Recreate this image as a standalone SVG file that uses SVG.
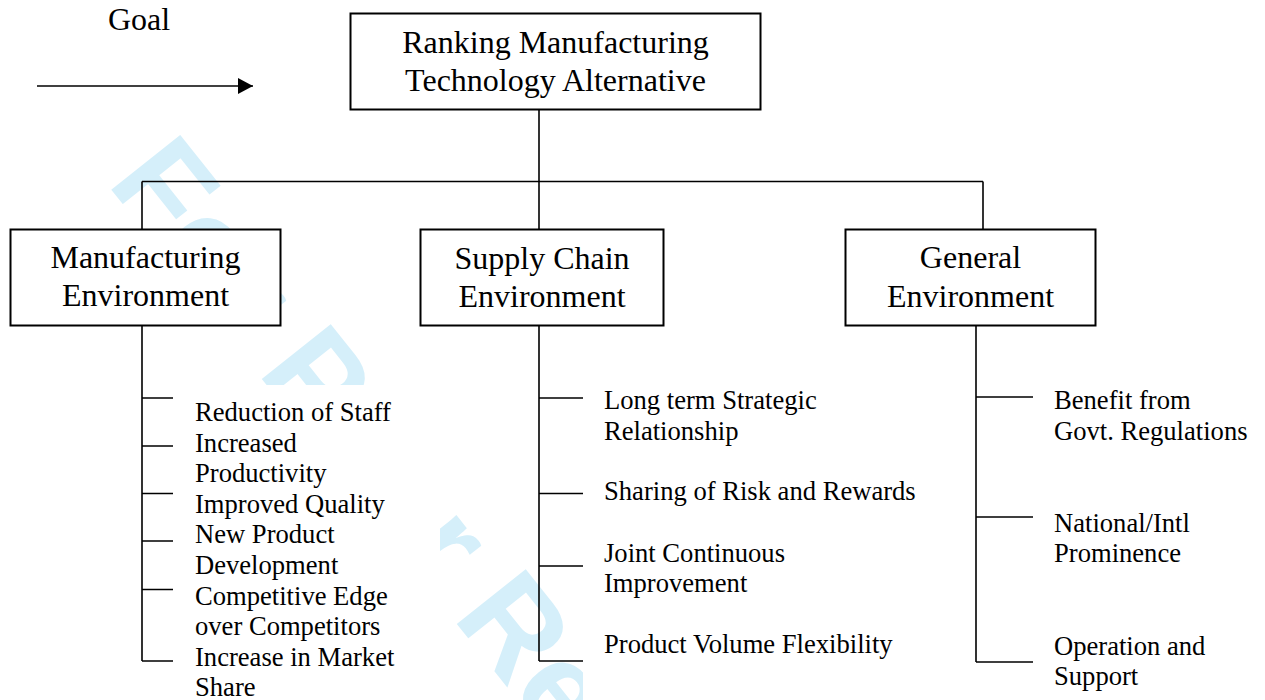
<svg xmlns="http://www.w3.org/2000/svg" width="1265" height="700" viewBox="0 0 1265 700">
  <style>
    .box { fill: #ffffff; stroke: #000000; stroke-width: 2; }
    .bg { fill: #ffffff; stroke: none; }
    .conn { stroke: #000000; stroke-width: 1.6; fill: none; }
    .node { font-family: "Liberation Serif", "Times New Roman", serif; font-size: 32px; fill: #000000; text-anchor: middle; }
    .goal { font-family: "Liberation Serif", "Times New Roman", serif; font-size: 32px; fill: #000000; }
    .sub { font-family: "Liberation Serif", "Times New Roman", serif; font-size: 26.6px; fill: #000000; }
    .wm { font-family: "Liberation Sans", Arial, sans-serif; font-weight: bold; font-size: 128px; fill: #d5effa; }
  </style>
  <defs>
    <marker id="arrow" viewBox="0 0 15 16" refX="15" refY="8" markerWidth="15" markerHeight="16" markerUnits="userSpaceOnUse" orient="auto">
      <path d="M0,0 L15,8 L0,16 Z" fill="#000000"/>
    </marker>
  </defs>
  <rect x="0" y="0" width="1265" height="700" fill="#ffffff"/>

  <g id="watermark">
    <text class="wm" transform="translate(106,183) rotate(51.5)">For Peer Review</text>
  </g>

  <g id="text-backgrounds">
    <rect class="bg" x="180" y="385" width="260" height="315"/>
    <rect class="bg" x="583" y="385" width="345" height="315"/>
  </g>

  <g id="connectors">
    <line class="conn" x1="37" y1="86" x2="253" y2="86" marker-end="url(#arrow)"/>
    <line class="conn" x1="539" y1="109" x2="539" y2="229"/>
    <line class="conn" x1="142" y1="181.5" x2="983" y2="181.5"/>
    <line class="conn" x1="142" y1="181.5" x2="142" y2="229"/>
    <line class="conn" x1="983" y1="181.5" x2="983" y2="229"/>
    <path class="conn" d="M142,326 V661 M142,398 H173 M142,446 H173 M142,493.5 H173 M142,541 H173 M142,589.5 H173 M142,661 H173"/>
    <path class="conn" d="M539,325 V661 M539,398 H583 M539,493.5 H583 M539,566 H583 M539,661 H583"/>
    <path class="conn" d="M976,326 V662 M976,397 H1033 M976,517 H1033 M976,662 H1033"/>
  </g>

  <g id="goal">
    <text class="goal" x="108" y="30">Goal</text>
  </g>

  <g id="node-root">
    <rect class="box" x="350.5" y="13.5" width="410" height="96"/>
    <text class="node" x="555.5" y="53">Ranking Manufacturing</text>
    <text class="node" x="555.5" y="91">Technology Alternative</text>
  </g>

  <g id="node-manufacturing">
    <rect class="box" x="10.5" y="229.5" width="270" height="96"/>
    <text class="node" x="145.5" y="268">Manufacturing</text>
    <text class="node" x="145.5" y="306">Environment</text>
  </g>

  <g id="node-supply">
    <rect class="box" x="420.5" y="229.5" width="243" height="96"/>
    <text class="node" x="542" y="268.5">Supply Chain</text>
    <text class="node" x="542" y="306.5">Environment</text>
  </g>

  <g id="node-general">
    <rect class="box" x="845.5" y="229.5" width="250" height="96"/>
    <text class="node" x="970.5" y="268">General</text>
    <text class="node" x="970.5" y="306.5">Environment</text>
  </g>

  <g id="manufacturing-criteria">
    <text class="sub" x="195" y="421">Reduction of Staff</text>
    <text class="sub" x="195" y="451.5">Increased</text>
    <text class="sub" x="195" y="482">Productivity</text>
    <text class="sub" x="195" y="512.5">Improved Quality</text>
    <text class="sub" x="195" y="543">New Product</text>
    <text class="sub" x="195" y="574">Development</text>
    <text class="sub" x="195" y="604.5">Competitive Edge</text>
    <text class="sub" x="195" y="635">over Competitors</text>
    <text class="sub" x="195" y="665.5">Increase in Market</text>
    <text class="sub" x="195" y="696">Share</text>
  </g>

  <g id="supply-criteria">
    <text class="sub" x="604" y="409">Long term Strategic</text>
    <text class="sub" x="604" y="440">Relationship</text>
    <text class="sub" x="604" y="500">Sharing of Risk and Rewards</text>
    <text class="sub" x="604" y="561.5">Joint Continuous</text>
    <text class="sub" x="604" y="592">Improvement</text>
    <text class="sub" x="604" y="653">Product Volume Flexibility</text>
  </g>

  <g id="general-criteria">
    <text class="sub" x="1054" y="409">Benefit from</text>
    <text class="sub" x="1054" y="440">Govt. Regulations</text>
    <text class="sub" x="1054" y="532">National/Intl</text>
    <text class="sub" x="1054" y="562">Prominence</text>
    <text class="sub" x="1054" y="655">Operation and</text>
    <text class="sub" x="1054" y="685">Support</text>
  </g>
</svg>
